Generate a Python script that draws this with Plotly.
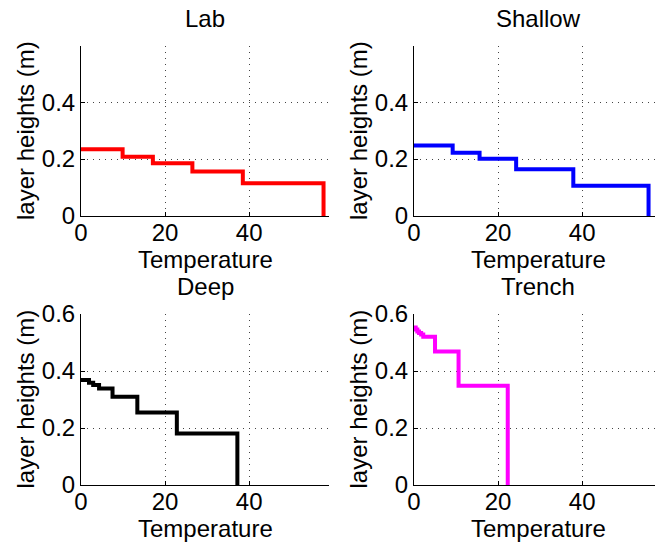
import plotly.graph_objects as go

# Layer height profiles against temperature (stepwise), one panel per site
panel_names = ["Lab", "Shallow", "Deep", "Trench"]
panel_colors = ["#ff0000", "#0000ff", "#000000", "#ff00ff"]

lab_temp = [0, 9.9, 17.1, 26.5, 38.5, 57.7]
lab_height = [0.234, 0.208, 0.185, 0.156, 0.115, 0.0]

shallow_temp = [0, 9.2, 15.6, 24.3, 37.9, 55.8]
shallow_height = [0.248, 0.222, 0.201, 0.164, 0.106, 0.0]

deep_temp = [0, 1.9, 2.9, 4.3, 7.5, 13.4, 22.8, 37.2]
deep_height = [0.368, 0.359, 0.351, 0.339, 0.310, 0.254, 0.181, 0.0]

trench_temp = [0, 0.4, 0.8, 1.2, 1.7, 2.2, 5.0, 10.6, 22.3]
trench_height = [0.553, 0.546, 0.539, 0.533, 0.528, 0.520, 0.468, 0.348, 0.0]

x_ticks = [0, 20, 40]
x_tick_labels = ["0", "20", "40"]
y_ticks_top = [0, 0.2, 0.4]
y_ticks_bottom = [0, 0.2, 0.4, 0.6]
y_tick_labels_top = ["0", "0.2", "0.4"]
y_tick_labels_bottom = ["0", "0.2", "0.4", "0.6"]

W, H = 655, 544
FONT = "Liberation Sans, Arial, Helvetica, sans-serif"
FS = 24

# plot-area boxes in pixels: (left, right, top, bottom)
boxes = [(81, 329, 46, 216), (414, 655, 46, 216),
         (81, 329, 314, 485), (414, 655, 314, 485)]
px_per_unit = 248 / 59.0
x_ranges = [[0, (b[1] - b[0]) / px_per_unit] for b in boxes]
y_ranges = [[0, 0.597], [0, 0.597], [0, 0.6], [0, 0.6]]

series = [(lab_temp, lab_height), (shallow_temp, shallow_height),
          (deep_temp, deep_height), (trench_temp, trench_height)]

fig = go.Figure()
layout = dict(
    width=W, height=H, margin=dict(l=0, r=0, t=0, b=0, pad=0, autoexpand=False),
    paper_bgcolor="white", plot_bgcolor="white", showlegend=False,
    font=dict(family=FONT, size=FS, color="black"),
)
annotations = []

for i, (name, color, (tx, hy), box) in enumerate(zip(panel_names, panel_colors, series, boxes)):
    n = "" if i == 0 else str(i + 1)
    left, right, top, bottom = box
    fig.add_trace(go.Scatter(
        x=tx, y=hy, mode="lines", line=dict(color=color, width=4, shape="hv"),
        xaxis="x" + n, yaxis="y" + n, hoverinfo="skip",
    ))
    top_row = i < 2
    common = dict(
        showline=True, linecolor="black", linewidth=1, mirror=False,
        ticks="inside", ticklen=4, tickcolor="black", tickwidth=1,
        showgrid=True, gridcolor="#444444", gridwidth=1, griddash="1px,5px",
        zeroline=False, tickfont=dict(family=FONT, size=FS, color="black"),
        fixedrange=True, automargin=False,
    )
    layout["xaxis" + n] = dict(
        common, domain=[left / W, min(right / W, 1.0)], range=x_ranges[i],
        tickvals=x_ticks, ticktext=x_tick_labels, anchor="y" + n,
        ticklabelstandoff=-5,
    )
    layout["yaxis" + n] = dict(
        common, domain=[1 - bottom / H, 1 - top / H], range=y_ranges[i],
        tickvals=y_ticks_top if top_row else y_ticks_bottom,
        ticktext=y_tick_labels_top if top_row else y_tick_labels_bottom,
        anchor="x" + n,
    )
    cx = (left + 124) / W
    # panel title
    annotations.append(dict(
        text=name, x=cx, y=1 - (top - 27.5) / H, xref="paper", yref="paper",
        xanchor="center", yanchor="middle", showarrow=False,
        font=dict(family=FONT, size=FS, color="black"),
    ))
    # x-axis title
    annotations.append(dict(
        text="Temperature", x=cx, y=1 - (bottom + 43.5) / H, xref="paper", yref="paper",
        xanchor="center", yanchor="middle", showarrow=False,
        font=dict(family=FONT, size=FS, color="black"),
    ))
    # y-axis title
    annotations.append(dict(
        text="layer heights (m)", x=(left - 56) / W, y=1 - ((top + bottom) / 2) / H,
        xref="paper", yref="paper", xanchor="center", yanchor="middle",
        textangle=-90, showarrow=False,
        font=dict(family=FONT, size=FS, color="black"),
    ))

layout["annotations"] = annotations
fig.update_layout(**layout)
fig.write_html("out.html")
